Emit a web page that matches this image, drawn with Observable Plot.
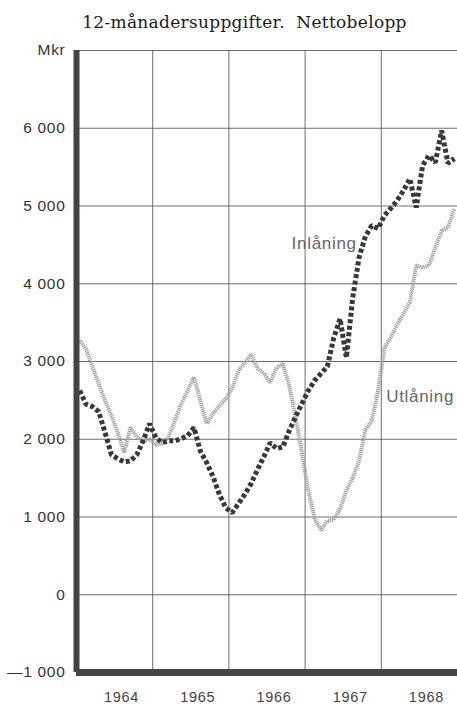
<!DOCTYPE html>
<html>
<head>
<meta charset="utf-8">
<script src="https://cdn.jsdelivr.net/npm/d3@7"></script>
<script src="https://cdn.jsdelivr.net/npm/@observablehq/plot@0.6"></script>
<style>
  html, body { margin: 0; padding: 0; background: #fff; }
  #title { height: 40px; width: 457px; box-sizing: border-box; padding-left: 32px; text-align: center;
           font-family: "DejaVu Serif", "Liberation Serif", serif; font-size: 17px; color: #1a1a1a;
           line-height: 44px; letter-spacing: 0.3px; font-weight: 500; }
  #chart svg { display: block; }
  #chart svg text { letter-spacing: 0.7px; }
</style>
</head>
<body>
<div id="title">12-månadersuppgifter.&nbsp; Nettobelopp</div>
<div id="chart"></div>
<script>
// ---- Data ----
const startYear = 1964;            // first monthly point: January 1964
const yearLabels = [1964, 1965, 1966, 1967, 1968];
const yearGrid = [1965, 1966, 1967, 1968];
const yTicks = [-1000, 0, 1000, 2000, 3000, 4000, 5000, 6000];
const yTop = 7000;

// Inlåning, Mkr, monthly Jan 1964 – Dec 1968
const inlaning = [
  2625, 2450, 2420, 2355, 2085, 1800, 1750, 1710, 1720, 1800, 1980, 2200,
  2020, 1956, 1980, 1980, 2008, 2045, 2150, 1850, 1700, 1520, 1290, 1120,
  1055, 1170, 1290, 1430, 1610, 1775, 1955, 1880, 1900, 2110, 2290, 2460,
  2625, 2755, 2845, 2935, 3300, 3550, 3050, 3820, 4340, 4610, 4750, 4710,
  4880, 4970, 5070, 5200, 5350, 4980, 5520, 5650, 5560, 5970, 5550, 5610
];
// Utlåning, Mkr, monthly Jan 1964 – Dec 1968
const utlaning = [
  3270, 3165, 2935, 2715, 2495, 2305, 2085, 1830, 2150, 2030, 1980, 2005,
  1930, 1945, 2035, 2240, 2460, 2625, 2800, 2495, 2200, 2330, 2430, 2520,
  2650, 2880, 2985, 3090, 2910, 2850, 2730, 2920, 2970, 2690, 2280, 1830,
  1340,  980,  830,  950,  965, 1105, 1340, 1505, 1725, 2125, 2240, 2625,
  3180, 3310, 3475, 3615, 3760, 4235, 4210, 4235, 4465, 4685, 4720, 4970
];

const seriesLabels = [
  {name: "Inlåning", t: 1967.25, v: 4520},
  {name: "Utlåning", t: 1968.51, v: 2550}
];
const unitLabel = "Mkr";

// ---- Build rows ----
const rows = inlaning.map((v, i) => ({t: startYear + (i + 0.5) / 12, inl: v, utl: utlaning[i]}));

const fmt = d => (d < 0 ? "\u2014" : "") + d3.format(",")(Math.abs(d)).replace(/,/g, " ");

const chart = Plot.plot({
  width: 457,
  height: 666,
  marginLeft: 76,
  marginRight: 0,
  marginTop: 10,
  marginBottom: 34,
  style: {fontFamily: "'Liberation Sans', Arial, sans-serif", fontSize: "15px", color: "#333", background: "#fff"},
  x: {domain: [1964, 1969], axis: null},
  y: {domain: [-1000, yTop], axis: null},
  marks: [
    Plot.ruleY(yTicks.concat([yTop]), {stroke: "#555", strokeWidth: 1, strokeOpacity: 0.85}),
    Plot.ruleX(yearGrid, {stroke: "#555", strokeWidth: 1, strokeOpacity: 0.85}),
    Plot.line(rows, {x: "t", y: "utl", stroke: "#a0a0a0", strokeWidth: 4, strokeDasharray: "1.2,0.8", strokeLinecap: "butt", strokeLinejoin: "miter"}),
    Plot.line(rows, {x: "t", y: "inl", stroke: "#383838", strokeWidth: 5, strokeDasharray: "4,2.5", strokeLinecap: "butt", strokeLinejoin: "miter"}),
    Plot.ruleX([1964], {stroke: "#444", strokeWidth: 6}),
    Plot.ruleY([-1000], {stroke: "#444", strokeWidth: 7}),
    // y tick labels
    Plot.text(yTicks, {x: () => 1964, y: d => d, text: fmt, textAnchor: "end", dx: -11, fontSize: 15.5, fill: "#333"}),
    // year labels below the axis
    Plot.text(yearLabels, {x: d => d + 0.5, y: () => -1000, text: d => String(d), dx: 7, dy: 25, fontSize: 14.5, fill: "#444"}),
    Plot.text([{t: 1964, v: yTop, s: unitLabel}], {x: "t", y: "v", text: "s", textAnchor: "end", dx: -11, fontSize: 15.5, fill: "#333"}),
    Plot.text(seriesLabels, {x: "t", y: "v", text: "name", fontSize: 17, fill: "#666"})
  ]
});
document.getElementById("chart").appendChild(chart);
</script>
</body>
</html>
